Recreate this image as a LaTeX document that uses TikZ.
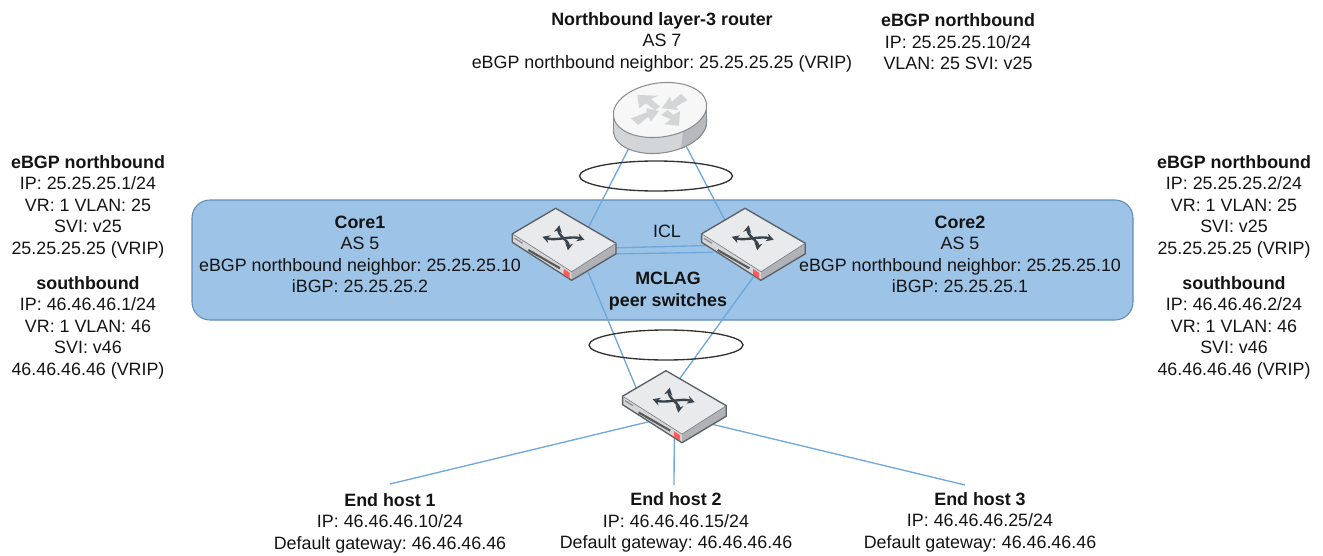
\documentclass[tikz,border=0pt]{standalone}
\usepackage{fontspec}
\setmainfont{Liberation Sans}
\usetikzlibrary{arrows.meta,calc,shapes.geometric}
\definecolor{bandfill}{HTML}{9DC3E6}
\definecolor{bandline}{HTML}{5E8DB8}
\definecolor{linkblue}{HTML}{6FA8DC}
\definecolor{swtop}{HTML}{E9EAEC}
\definecolor{swfront}{HTML}{D6D7D9}
\definecolor{swside}{HTML}{B0B2B5}
\definecolor{swedge}{HTML}{5B6066}
\definecolor{glyphc}{HTML}{39434B}
\definecolor{rtrbody}{HTML}{D4D5D7}
\definecolor{rtrdark}{HTML}{B7B9BC}
\definecolor{rtredge}{HTML}{8A8D91}
\definecolor{rtrarrow}{HTML}{D3D5D6}
\tikzset{
  x=0.75pt,y=-0.75pt,
  txt/.style={font=\fontsize{13.4}{16.1}\selectfont,align=center,inner sep=0pt,text=black!92},
  link/.style={draw=linkblue,line width=1pt},
  bundle/.style={draw=black!80,line width=1pt,ellipse,inner sep=0pt},
  band/.style={draw=bandline,fill=bandfill,line width=0.8pt,rounded corners=13.5pt,inner sep=0pt},
  swarrow/.style={glyphc,line width=1.8pt,{Stealth[length=5.5pt,width=6pt]}-{Stealth[length=5.5pt,width=6pt]}},
  pics/switchicon/.style={code={
    \begin{scope}[shift={(-8.3,-31.7)}]
    \fill[swfront] (-43.4,25.5) -- (16,63.4) -- (16,72) -- (-43.4,34) -- cycle;
    \fill[swside] (16,63.4) -- (60.3,35) -- (60.3,45.5) -- (16,72) -- cycle;
    \fill[swtop] (0,0) -- (-43.4,25.5) -- (16,63.4) -- (60.3,35) -- cycle;
    \draw[swedge,line width=1pt,line join=round] (0,0) -- (-43.4,25.5) -- (-43.4,34) -- (16,72) -- (60.3,45.5) -- (60.3,35) -- cycle;
    \draw[swedge!80,line width=0.5pt] (-43.4,25.5) -- (16,63.4) -- (60.3,35);
    \draw[black!65,line width=1.6pt] (-27.4,41.7) -- (4.3,60);
    \draw[black!45,line width=0.9pt] (-41,30) -- (-33,35);
    \fill[red!65!white] (8,60.5) -- (14,64.5) -- (14,70) -- (8,66) -- cycle;
    \draw[swarrow,shift={(7.7,30)}] (-21,-1.5) .. controls (-8,3) and (8,-3) .. (21,1.5);
    \draw[swarrow,shift={(7.7,30)}] (-4,-13) .. controls (-6,-3) and (6,3) .. (4.5,12);
    \end{scope}
  }},
  pics/routericon/.style={code={
    \fill[rtrbody,draw=rtredge,line width=0.8pt,shift={(0,16)},rotate=8] (0,0) ellipse [x radius=47,y radius=27];
    \fill[rtrbody] (-46.6,4.4) -- (-46.6,20.4) -- (46.6,11.6) -- (46.6,-4.4) -- cycle;
    \begin{scope}
      \clip (30,-30) -- (60,-30) -- (60,60) -- (18,60) -- cycle;
      \fill[rtrdark,draw=rtredge,line width=0.8pt,shift={(0,16)},rotate=8] (0,0) ellipse [x radius=47,y radius=27];
      \fill[rtrdark] (-46.6,4.4) -- (-46.6,20.4) -- (46.6,11.6) -- (46.6,-4.4) -- cycle;
    \end{scope}
    \draw[rtredge,line width=0.8pt] (-46.6,4.4) -- (-46.6,20.4);
    \draw[rtredge,line width=0.8pt] (46.6,-4.4) -- (46.6,11.6);
    \fill[black!3,draw=rtredge,line width=0.8pt,rotate=8] (0,0) ellipse [x radius=47,y radius=27];
    \fill[rtrarrow] (-22.7,-15) -- (-1.7,-14.3) -- (-9,-11) -- (0,-3.3) -- (-5,0) -- (-14.3,-6.7) -- (-20.7,-1.7) -- cycle;
    \fill[rtrarrow] (1.7,-1.7) -- (10,-13.3) -- (11.7,-8.3) -- (21,-16) -- (27.3,-10) -- (16,-3.3) -- (18.3,0) -- cycle;
    \fill[rtrarrow] (-1,1) -- (-13.3,-1.7) -- (-13.3,2.3) -- (-29,8.3) -- (-21.7,15) -- (-11.7,6.7) -- (-9.3,11.7) -- cycle;
    \fill[rtrarrow] (19,15.7) -- (20,1) -- (13.3,5) -- (7.7,0) -- (1,5) -- (10.7,9.3) -- (4.3,14.3) -- cycle;
  }}
}
\begin{document}
\frenchspacing
\begin{tikzpicture}
\useasboundingbox (0,0) rectangle (1323,556);
\node[band,minimum width=705.75pt,minimum height=90pt] (group) at (662.5,260) {};

\coordinate (router) at (660,110);
\coordinate (core1) at (564,240);
\coordinate (core2) at (753.3,240);
\coordinate (access) at (674.3,402.4);

\node[txt] (hostA) at (390,523) {\textbf{End host 1}\\IP: 46.46.46.10/24\\Default gateway: 46.46.46.46};
\node[txt] (hostB) at (676,522.5) {\textbf{End host 2}\\IP: 46.46.46.15/24\\Default gateway: 46.46.46.46};
\node[txt] (hostC) at (980,522) {\textbf{End host 3}\\IP: 46.46.46.25/24\\Default gateway: 46.46.46.46};

\draw[link] ($(router)+(-30,36)$) -- ($(core1)+(18,0)$);
\draw[link] ($(router)+(25,34)$) -- ($(core2)+(-18,0)$);
\draw[link] ($(core1)+(24,32)$) -- ($(access)+(-33,-2)$);
\draw[link] ($(core2)+(0,37)$) -- ($(access)+(-6,-8)$);
\draw[link] ($(core1)+(45,8)$) -- ($(core2)+(-45,5.5)$);
\draw[link] ($(core1)+(45,14)$) -- ($(core2)+(-40,12.3)$);
\draw[link] ($(access)+(-20,18)$) -- ($(hostA)+(0,-39)$);
\draw[link] ($(access)+(0,30)$) -- ($(hostB)+(-2,-37.5)$);
\draw[link] ($(access)+(30,20)$) -- ($(hostC)+(-15,-37)$);

\node[bundle,minimum width=114.75pt,minimum height=22.5pt] (lagup) at (656,176) {};
\node[bundle,minimum width=115.5pt,minimum height=22.5pt] (lagdown) at (666,345) {};

\pic at (router) {routericon};
\pic at (core1) {switchicon};
\pic at (core2) {switchicon};
\pic at (access) {switchicon};

\node[txt] (routerlabel) at (662,42) {\textbf{Northbound layer-3 router}\\AS 7\\eBGP northbound neighbor: 25.25.25.25 (VRIP)};
\node[txt] (routerip) at (958,42) {\textbf{eBGP northbound}\\IP: 25.25.25.10/24\\VLAN: 25 SVI: v25};
\node[txt] (leftnorth) at (88,206.5) {\textbf{eBGP northbound}\\IP: 25.25.25.1/24\\VR: 1 VLAN: 25\\SVI: v25\\25.25.25.25 (VRIP)};
\node[txt] (leftsouth) at (88,327.5) {\textbf{southbound}\\IP: 46.46.46.1/24\\VR: 1 VLAN: 46\\SVI: v46\\46.46.46.46 (VRIP)};
\node[txt] (rightnorth) at (1234,206.5) {\textbf{eBGP northbound}\\IP: 25.25.25.2/24\\VR: 1 VLAN: 25\\SVI: v25\\25.25.25.25 (VRIP)};
\node[txt] (rightsouth) at (1234,327.5) {\textbf{southbound}\\IP: 46.46.46.2/24\\VR: 1 VLAN: 46\\SVI: v46\\46.46.46.46 (VRIP)};
\node[txt] (core1label) at (360,254.5) {\textbf{Core1}\\AS 5\\eBGP northbound neighbor: 25.25.25.10\\iBGP: 25.25.25.2};
\node[txt] (core2label) at (960,254.5) {\textbf{Core2}\\AS 5\\eBGP northbound neighbor: 25.25.25.10\\iBGP: 25.25.25.1};
\node[txt] (icl) at (667,231.5) {ICL};
\node[txt] (mclag) at (668,291) {\textbf{MCLAG}\\\textbf{peer switches}};
\end{tikzpicture}
\end{document}
